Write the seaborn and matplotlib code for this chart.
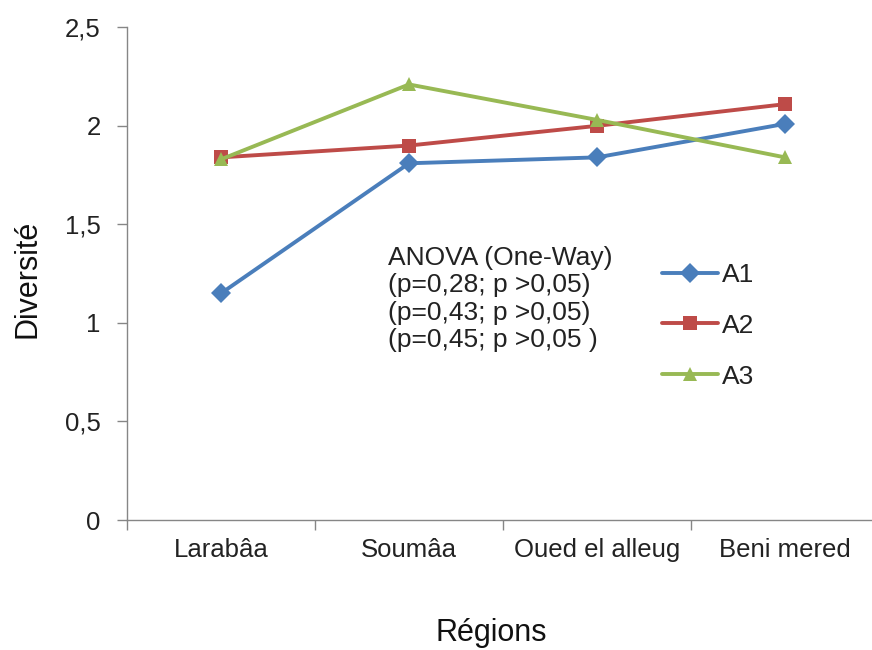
import matplotlib
matplotlib.use("Agg")
import matplotlib.pyplot as plt
import seaborn as sns
import pandas as pd
from matplotlib.ticker import FixedLocator

regions = ["Larabâa", "Soumâa", "Oued el alleug", "Beni mered"]
a1 = [1.15, 1.81, 1.84, 2.01]
a2 = [1.84, 1.90, 2.00, 2.11]
a3 = [1.83, 2.21, 2.03, 1.84]
series_names = ["A1", "A2", "A3"]
y_ticks = [0, 0.5, 1, 1.5, 2, 2.5]
y_tick_labels = ["0", "0,5", "1", "1,5", "2", "2,5"]
anova_lines = ["ANOVA (One-Way)", "(p=0,28; p >0,05)", "(p=0,43; p >0,05)", "(p=0,45; p >0,05 )"]

rows = []
for name, vals in zip(series_names, [a1, a2, a3]):
    for r, v in zip(regions, vals):
        rows.append({"Région": r, "Diversité": v, "Série": name})
df = pd.DataFrame(rows)

sns.set_theme(style="white")
plt.rcParams["font.family"] = ["Liberation Sans", "DejaVu Sans"]

fig = plt.figure(figsize=(8.72, 6.5), dpi=100)
ax = fig.add_axes([127/872, 0.2, 752/872, 0.758])

palette = {"A1": "#4A7EBB", "A2": "#BE4B48", "A3": "#98B954"}
markers = {"A1": "D", "A2": "s", "A3": "^"}
sns.lineplot(data=df, x="Région", y="Diversité", hue="Série", style="Série",
             palette=palette, markers=markers, dashes=False, sort=False,
             linewidth=2.8, markersize=10, markeredgewidth=0, ax=ax)

ax.set_xlim(-0.5, 3.5)
ax.set_ylim(0, 2.5)
ax.set_yticks(y_ticks)
ax.set_yticklabels(y_tick_labels)
ax.set_xticks(range(len(regions)))
ax.set_xticklabels(regions)
ax.xaxis.set_minor_locator(FixedLocator([-0.5, 0.5, 1.5, 2.5, 3.5]))

for s in ["top", "right"]:
    ax.spines[s].set_visible(False)
for s in ["left", "bottom"]:
    ax.spines[s].set_color("#868686")
    ax.spines[s].set_linewidth(1.0)

ax.tick_params(axis="y", which="major", direction="out", length=7, width=1,
               color="#868686", left=True, labelsize=18.5, pad=12, labelcolor="#222222")
ax.tick_params(axis="x", which="major", length=0, labelsize=18.5, pad=13, labelcolor="#222222")
ax.tick_params(axis="x", which="minor", direction="out", length=7, width=1,
               color="#868686", bottom=True)

ax.set_ylabel("Diversité", fontsize=22, color="#111111")
ax.set_xlabel("Régions", fontsize=22, color="#111111")
ax.yaxis.set_label_coords(-0.112, 0.49)
ax.xaxis.set_label_coords(0.485, -0.198)

ax.text(0.347, 0.557, "\n".join(anova_lines), transform=ax.transAxes,
        ha="left", va="top", fontsize=19, linespacing=1.19, color="#222222")

leg = ax.legend(loc="upper left", bbox_to_anchor=(0.712, 0.522), frameon=False,
                fontsize=19, handlelength=2.1, handletextpad=0.15,
                labelspacing=1.02, borderpad=0, borderaxespad=0)
for t in leg.get_texts():
    t.set_color("#222222")

fig.savefig("out.png", dpi=100)
